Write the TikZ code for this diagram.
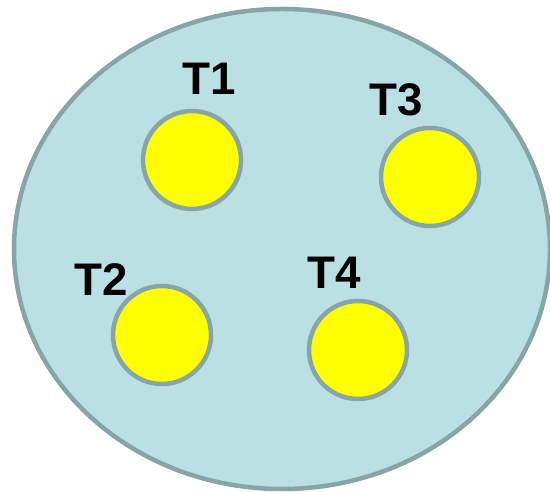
\documentclass[tikz,border=0pt]{standalone}
\usepackage{fontspec}
\setmainfont{Liberation Sans}
\usetikzlibrary{positioning}
\definecolor{pool}{HTML}{BAE0E4}
\definecolor{rim}{HTML}{87A5A7}
\definecolor{task}{HTML}{FFFF00}

\begin{document}
\begin{tikzpicture}[
  x=0.02cm, y=-0.02cm,
  tk/.style={draw=rim, circle, line width=0.09cm, fill=task, minimum size=1.96cm, inner sep=0pt},
  lbl/.style={font=\fontsize{26}{28}\selectfont\bfseries, inner sep=0pt},
]
  \useasboundingbox (0,0) rectangle (550,492);
  \clip (0,0) rectangle (550,492);
  % the pool
  \draw[rim, line width=0.09cm, fill=pool] (282,249) ellipse [x radius=268, y radius=-240];

  % tasks
  \node[tk] (c1) at (192,160) {};
  \node[tk] (c3) at (430,177) {};
  \node[tk] (c2) at (162,335) {};
  \node[tk] (c4) at (358,350) {};

  \node[lbl] (t1) at (209,79) {T1};
  \node[lbl] (t3) at (396,100) {T3};
  \node[lbl] (t2) at (101,280) {T2};
  \node[lbl] (t4) at (334,273) {T4};
\end{tikzpicture}
\end{document}
